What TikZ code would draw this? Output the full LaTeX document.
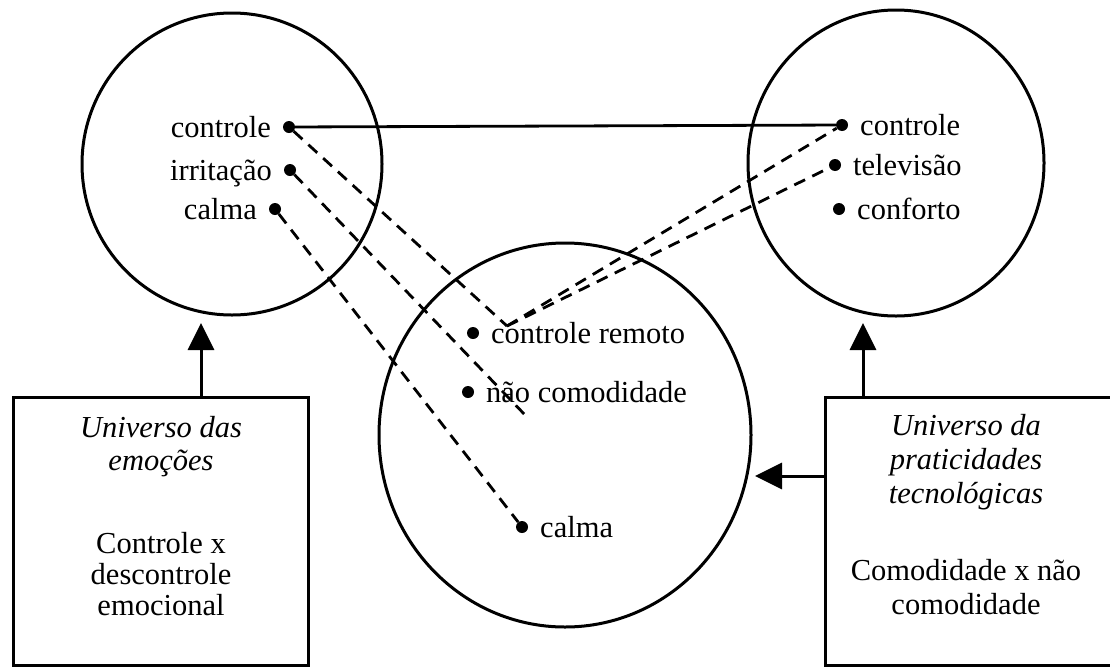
\documentclass[tikz,border=0pt]{standalone}
\usepackage{fontspec}
\setmainfont{Liberation Serif}
\usetikzlibrary{arrows.meta,shapes.geometric}
\begin{document}
\begin{tikzpicture}[x=1pt,y=-1pt,
  every node/.style={font=\fontsize{30.5}{32}\selectfont},
  ring/.style={draw, ellipse, line width=3pt, inner sep=0pt},
  dot/.style={circle, fill, inner sep=0pt, minimum size=12pt},
  lblL/.style={anchor=base east, inner sep=0pt, xshift=-18pt, yshift=-10pt},
  lblR/.style={anchor=base west, inner sep=0pt, xshift=18pt, yshift=-10pt},
  link/.style={line width=2.8pt},
  dlink/.style={line width=2.8pt, dash pattern=on 12pt off 8pt},
  box/.style={draw, line width=3pt, inner sep=0pt, minimum width=295pt, minimum height=268pt},
  arr/.style={line width=3pt, -{Triangle[length=27pt,width=26pt]}},
  bt/.style={anchor=base, inner sep=0pt}]
\clip (0,0) rectangle (1110,667);
\fill[white] (0,0) rectangle (1110,667);
% circles
\node[ring, minimum width=300pt, minimum height=302pt] (cL) at (232,164) {};
\node[ring, minimum width=296pt, minimum height=306pt] (cR) at (896,163) {};
\node[ring, minimum width=372pt, minimum height=384pt] (cM) at (565,435) {};
% dots
\node[dot] (lc) at (289,127) {};
\node[dot] (li) at (290,170) {};
\node[dot] (lca) at (275,209) {};
\node[dot] (rc) at (842,125) {};
\node[dot] (rtv) at (835,165) {};
\node[dot] (rf) at (839,209) {};
\node[dot] (mr) at (473,333) {};
\node[dot] (mn) at (468,392) {};
\node[dot] (mca) at (522,527) {};
% labels
\node[lblL] (tlc) at (lc) {controle};
\node[lblL] (tli) at (li) {irritação};
\node[lblL] (tlca) at (lca) {calma};
\node[lblR] (trc) at (rc) {controle};
\node[lblR] (trtv) at (rtv) {televisão};
\node[lblR] (trf) at (rf) {conforto};
\node[lblR] (tmr) at (mr) {controle remoto};
\node[lblR] (tmn) at (mn) {não comodidade};
\node[lblR] (tmca) at (mca) {calma};
% connectors
\coordinate (cr) at (507,326);
\coordinate (ie) at (527,417);
\draw[link] (lc) -- (rc);
\draw[dlink] (lc) -- (cr);
\draw[dlink] (cr) -- (rc);
\draw[dlink] (cr) -- (rtv);
\draw[dlink] (li) -- (ie);
\draw[dlink] (lca) -- (mca);
% boxes
\node[box] (lbox) at (160.5,531) {};
\node[box, minimum width=300pt] (rbox) at (975,531) {};
\node[bt] (lb1) at (161,437) {\itshape Universo das};
\node[bt] (lb2) at (161,470) {\itshape emoções};
\node[bt] (lb3) at (161,553) {Controle x};
\node[bt] (lb4) at (161,584) {descontrole};
\node[bt] (lb5) at (161,615) {emocional};
\node[bt] (rb1) at (966,435) {\itshape Universo da};
\node[bt] (rb2) at (966,469) {\itshape praticidades};
\node[bt] (rb3) at (966,503) {\itshape tecnológicas};
\node[bt] (rb4) at (966,580) {Comodidade x não};
\node[bt] (rb5) at (966,614) {comodidade};
% arrows
\coordinate (la) at (201,323);
\coordinate (ra) at (863,323);
\coordinate (ha) at (755,476);
\draw[arr] (la |- lbox.north) -- (la);
\draw[arr] (ra |- rbox.north) -- (ra);
\draw[arr] (ha -| rbox.west) -- (ha);
\end{tikzpicture}
\end{document}
